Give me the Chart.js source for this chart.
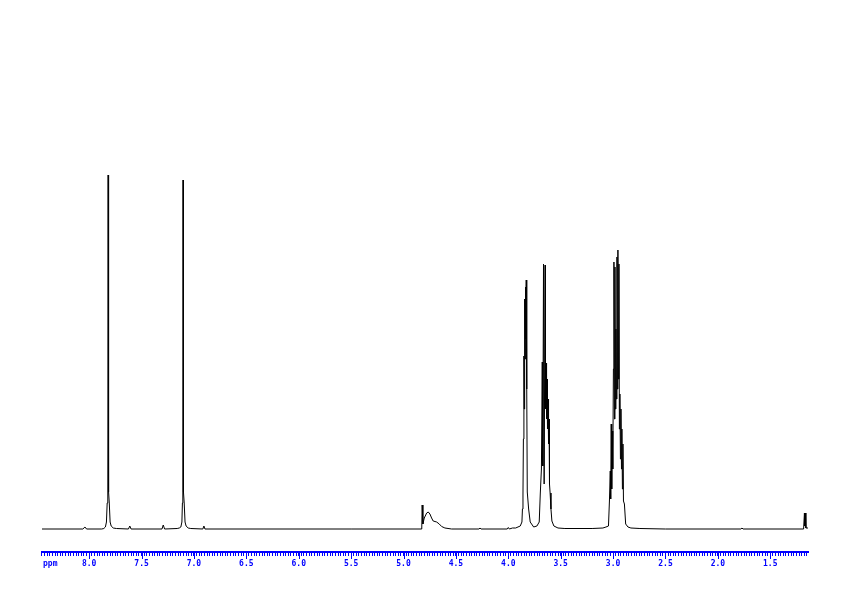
<!DOCTYPE html>
<html>
<head>
<meta charset="utf-8">
<title>1H NMR</title>
<script src="https://cdn.jsdelivr.net/npm/chart.js@4/dist/chart.umd.min.js"></script>
<style>
  html, body { margin: 0; padding: 0; background: #fff; }
  canvas { display: block; }
</style>
</head>
<body>
<canvas id="spectrum" width="842" height="596"></canvas>
<script>
// Chemical shift (ppm) of each trace vertex
const shifts = [
  8.45, 8.06, 8.04, 8.025, 7.88, 7.86, 7.845, 7.835, 7.828, 7.822, 7.819, 7.816, 7.813, 7.808, 7.800, 7.790, 7.770, 7.74,
  7.625, 7.612, 7.600, 7.305, 7.293, 7.280,
  7.16, 7.14, 7.125, 7.115, 7.110, 7.106, 7.104, 7.102, 7.100, 7.098, 7.093, 7.085, 7.075, 7.055, 7.03,
  6.915, 6.905, 6.895, 5.50,
  4.826, 4.822, 4.815, 4.802, 4.779, 4.764, 4.748, 4.732, 4.717, 4.684, 4.659, 4.636, 4.605, 4.541,
  4.28, 4.27, 4.26, 4.01, 4.00, 3.99, 3.96, 3.93,
  3.886, 3.870, 3.865, 3.860, 3.856, 3.851, 3.848, 3.844, 3.840, 3.837, 3.833, 3.829, 3.824, 3.819, 3.806, 3.791, 3.758, 3.727, 3.705,
  3.695, 3.684, 3.676, 3.671, 3.664, 3.658, 3.649, 3.645, 3.640, 3.635, 3.630, 3.626, 3.621, 3.616, 3.611, 3.607, 3.601, 3.593, 3.584, 3.565, 3.526, 3.46,
  3.20, 3.097, 3.068, 3.044, 3.035, 3.027, 3.023, 3.018, 3.013, 3.008, 3.003, 2.997, 2.992, 2.987, 2.982, 2.978, 2.973, 2.968,
  2.963, 2.959, 2.954, 2.949, 2.944, 2.940, 2.935, 2.930, 2.925, 2.920, 2.916, 2.911, 2.906, 2.901, 2.892, 2.880, 2.858, 2.830, 2.744,
  2.50, 1.78, 1.77, 1.76, 1.182, 1.174, 1.170, 1.165, 1.160, 1.14
];

// Signal height above the baseline at each vertex (same order)
const heights = [
  0, 0, 2, 0, 0, 0.5, 2, 7, 26, 37, 354, 354, 37, 26, 7, 3, 1, 0.5,
  0, 3, 0, 0, 4, 0,
  0.5, 1, 2, 7, 26, 37, 349, 110, 326, 37, 26, 7, 3, 1, 0.5,
  0, 3, 0, 0,
  0, 24, 5, 11, 16, 17, 15, 11, 8, 7, 5, 2.5, 1, 0,
  0, 1, 0, 0, 1.5, 0, 1, 1,
  3, 7, 20, 35, 90, 173, 120, 230, 170, 242, 190, 249, 140, 37, 20, 7, 2, 3, 7,
  35, 60, 167, 63, 265, 45, 264, 120, 166, 110, 150, 100, 130, 85, 110, 45, 36, 20, 8, 3, 1, 0.5,
  0.5, 1, 2, 3, 28, 58, 30, 105, 40, 98, 60, 160, 267, 110, 262, 120, 200, 130,
  272, 140, 279, 150, 265, 100, 135, 70, 120, 60, 100, 40, 85, 28, 25, 5, 2, 1, 0.5,
  0, 0, 1, 0, 0, 16, 3, 16, 1, 1
];

// Labelled ppm ticks along the axis
const tickLabels = ['8.0', '7.5', '7.0', '6.5', '6.0', '5.5', '5.0', '4.5', '4.0', '3.5', '3.0', '2.5', '2.0', '1.5'];

const AXIS_BLUE = '#0000ff';
const AXIS_FONT = 'bold 8px "DejaVu Sans Mono", monospace';

// minor ticks every 0.025 ppm, high to low (the axis is reversed)
const minorTicks = [];
for (let k = 338; k >= 46; k--) minorTicks.push(k * 0.025);

// Longer blue ticks at labelled positions + the "ppm" caption
const axisExtras = {
  id: 'axisExtras',
  afterDraw(chart) {
    const xs = chart.scales.x;
    const ctx = chart.ctx;
    ctx.save();
    ctx.strokeStyle = AXIS_BLUE;
    ctx.lineWidth = 1;
    tickLabels.forEach(lbl => {
      const px = Math.round(xs.getPixelForValue(parseFloat(lbl))) + 0.5;
      ctx.beginPath();
      ctx.moveTo(px, xs.top);
      ctx.lineTo(px, xs.top + 7);
      ctx.stroke();
    });
    ctx.fillStyle = AXIS_BLUE;
    ctx.font = AXIS_FONT;
    ctx.textBaseline = 'top';
    ctx.textAlign = 'left';
    ctx.fillText('ppm', xs.left + 1, xs.top + 8);
    ctx.restore();
  }
};

const ctx = document.getElementById('spectrum').getContext('2d');
new Chart(ctx, {
  type: 'line',
  data: {
    datasets: [{
      data: shifts.map((x, i) => ({ x: x, y: heights[i] })),
      borderColor: '#000000',
      borderWidth: 1,
      borderJoinStyle: 'bevel',
      pointRadius: 0,
      tension: 0,
      fill: false
    }]
  },
  options: {
    responsive: false,
    animation: false,
    devicePixelRatio: 1,
    layout: { padding: { left: 42, right: 34, top: 10, bottom: 0 } },
    plugins: {
      legend: { display: false },
      tooltip: { enabled: false }
    },
    scales: {
      x: {
        type: 'linear',
        position: 'bottom',
        reverse: true,
        min: 1.14,
        max: 8.45,
        border: { display: true, color: AXIS_BLUE, width: 2 },
        grid: { drawOnChartArea: false, drawTicks: true, tickLength: 4, tickColor: AXIS_BLUE, tickWidth: 1 },
        ticks: {
          autoSkip: false,
          maxRotation: 0,
          padding: 3,
          color: AXIS_BLUE,
          font: { family: '"DejaVu Sans Mono", monospace', size: 8, weight: 'bold' },
          callback: function(value) {
            const s = value.toFixed(1);
            return (Math.abs(value - parseFloat(s)) < 1e-6 && tickLabels.includes(s)) ? s : '';
          }
        },
        afterBuildTicks: function(axis) {
          axis.ticks = minorTicks.map(v => ({ value: v }));
        },
        afterFit: function(axis) {
          axis.height = 44;
        }
      },
      y: {
        display: false,
        min: -23,
        max: 519
      }
    }
  },
  plugins: [axisExtras]
});
</script>
</body>
</html>
